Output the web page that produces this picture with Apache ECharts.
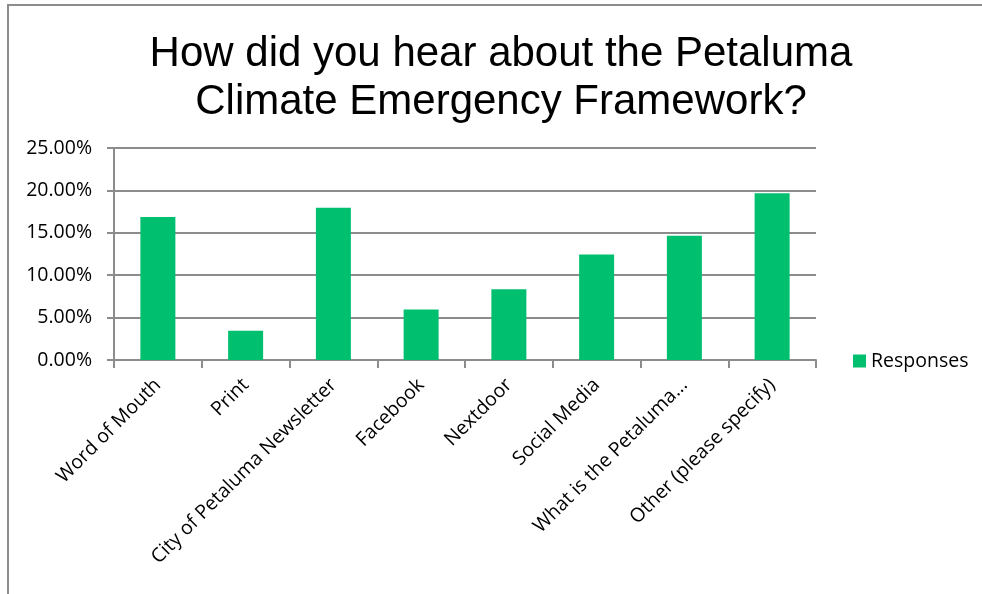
<!DOCTYPE html>
<html>
<head>
<meta charset="utf-8">
<script src="https://cdn.jsdelivr.net/npm/echarts@6/dist/echarts.min.js"></script>
<style>
  html, body { margin: 0; padding: 0; background: #fff; }
  #chart { width: 982px; height: 594px; }
</style>
</head>
<body>
<div id="chart"></div>
<script>
// Survey answer categories and the share of responses for each (percent)
const categories = [
  'Word of Mouth',
  'Print',
  'City of Petaluma Newsletter',
  'Facebook',
  'Nextdoor',
  'Social Media',
  'What is the Petaluma...',
  'Other (please specify)'
];
const responses = [16.85, 3.45, 17.95, 5.95, 8.35, 12.45, 14.65, 19.65];
const seriesName = 'Responses';
const titleText = 'How did you hear about the Petaluma\nClimate Emergency Framework?';

const axisGray = '#8c8c8c';
const labelFont = '"Open Sans", "Noto Sans", sans-serif';
const labelSize = 19.5;

const chart = echarts.init(document.getElementById('chart'), null, { renderer: 'canvas' });

chart.setOption({
  animation: false,
  backgroundColor: '#ffffff',
  title: {
    text: titleText,
    left: 496,
    top: 25,
    textAlign: 'center',
    textStyle: {
      fontFamily: '"Liberation Sans", Arial, sans-serif',
      fontSize: 42,
      fontWeight: 'normal',
      color: '#000',
      lineHeight: 48
    }
  },
  // chart frame: top and left edges
  graphic: [
    { type: 'line', shape: { x1: 7, y1: 5, x2: 982, y2: 5 }, style: { stroke: '#8c8c8c', lineWidth: 2 } },
    { type: 'line', shape: { x1: 8, y1: 4, x2: 8, y2: 594 }, style: { stroke: '#8c8c8c', lineWidth: 2 } }
  ],
  legend: {
    data: [seriesName],
    left: 853,
    top: 351,
    itemWidth: 13,
    itemHeight: 13,
    itemGap: 0,
    icon: 'rect',
    textStyle: { fontFamily: labelFont, fontSize: labelSize, color: '#000' },
    padding: 0
  },
  grid: {
    left: 114,
    right: 166,
    top: 148,
    bottom: 234,
    containLabel: false
  },
  xAxis: {
    type: 'category',
    data: categories,
    boundaryGap: true,
    axisLine: { show: true, lineStyle: { color: axisGray, width: 2 } },
    axisTick: { show: true, length: 8, alignWithLabel: false, lineStyle: { color: axisGray, width: 2 } },
    axisLabel: {
      interval: 0,
      rotate: 45,
      margin: 22,
      fontFamily: labelFont,
      fontSize: labelSize,
      color: '#000'
    }
  },
  yAxis: {
    type: 'value',
    min: 0,
    max: 25,
    interval: 5,
    axisLine: { show: true, lineStyle: { color: axisGray, width: 2 } },
    axisTick: { show: true, length: 7, lineStyle: { color: axisGray, width: 2 } },
    splitLine: { show: true, lineStyle: { color: axisGray, width: 2 } },
    axisLabel: {
      margin: 22,
      fontFamily: labelFont,
      fontSize: labelSize,
      color: '#000',
      formatter: v => v.toFixed(2) + '%'
    }
  },
  series: [{
    name: seriesName,
    type: 'bar',
    data: responses,
    barWidth: 35,
    itemStyle: { color: '#00bf6f' }
  }]
});
</script>
</body>
</html>
